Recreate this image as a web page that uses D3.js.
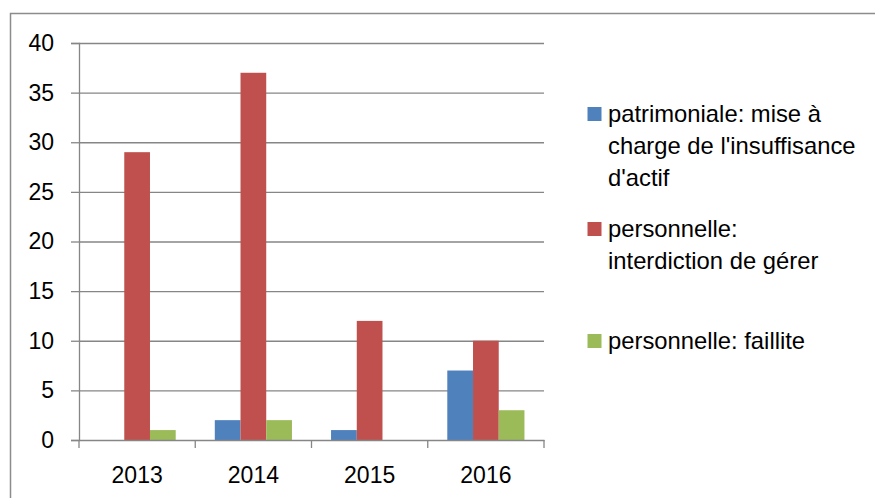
<!DOCTYPE html>
<html>
<head>
<meta charset="utf-8">
<script src="https://cdn.jsdelivr.net/npm/d3@7"></script>
<style>
  body { margin: 0; background: #fff; }
  svg { display: block; font-family: "Liberation Sans", Arial, sans-serif; }
</style>
</head>
<body>
<script>
// values
const years = ["2013", "2014", "2015", "2016"];
const patrimoniale = [0, 2, 1, 7];
const interdiction = [29, 37, 12, 10];
const faillite = [1, 2, 0, 3];
const seriesKeys = ["patrimoniale", "interdiction", "faillite"];
const legendLines = [
    ["patrimoniale: mise à", "charge de l'insuffisance", "d'actif"],
    ["personnelle:", "interdiction de gérer"],
    ["personnelle: faillite"]
];
const yTicks = [0, 5, 10, 15, 20, 25, 30, 35, 40];

const colors = { patrimoniale: "#4F81BD", interdiction: "#C0504D", faillite: "#9BBB59" };

const width = 875, height = 498;
const plotLeft = 79, plotRight = 544, plotTop = 43, plotBottom = 440;
const axisColor = "#868686";

const svg = d3.select("body").append("svg")
    .attr("width", width)
    .attr("height", height);

// outer frame (cut off at right and bottom)
svg.append("rect")
    .attr("x", 10.5).attr("y", 13.5)
    .attr("width", 900).attr("height", 520)
    .attr("fill", "none")
    .attr("stroke", "#8c8c8c")
    .attr("stroke-width", 1.5);

const x = d3.scaleBand().domain(years).range([plotLeft, plotRight]);
const x1 = d3.scaleBand().domain(seriesKeys).range([0, x.bandwidth()]).paddingOuter(0.76);
const y = d3.scaleLinear().domain([0, 40]).range([plotBottom, plotTop]);

// gridlines
svg.append("g")
    .attr("transform", `translate(${plotLeft},0)`)
    .call(d3.axisLeft(y).tickValues(yTicks.slice(1)).tickSize(-(plotRight - plotLeft)).tickFormat(""))
    .call(g => g.select(".domain").remove())
    .call(g => g.selectAll("line").attr("stroke", axisColor).attr("stroke-width", 1.3));

// bars
const rows = years.map((yr, i) => ({
    year: yr,
    patrimoniale: patrimoniale[i],
    interdiction: interdiction[i],
    faillite: faillite[i]
}));

svg.append("g")
    .selectAll("g")
    .data(rows)
    .join("g")
    .attr("transform", d => `translate(${x(d.year)},0)`)
    .selectAll("rect")
    .data(d => seriesKeys.map(k => ({ key: k, value: d[k] })))
    .join("rect")
    .attr("x", d => x1(d.key))
    .attr("width", x1.bandwidth())
    .attr("y", d => y(d.value))
    .attr("height", d => y(0) - y(d.value))
    .attr("fill", d => colors[d.key]);

// y axis
svg.append("g")
    .attr("transform", `translate(${plotLeft},0)`)
    .call(d3.axisLeft(y).tickValues(yTicks).tickSize(8).tickPadding(17))
    .call(g => g.select(".domain").attr("stroke", axisColor).attr("stroke-width", 1.3))
    .call(g => g.selectAll("line").attr("stroke", axisColor).attr("stroke-width", 1.3))
    .call(g => g.selectAll("text").attr("font-size", 23).attr("font-family", "Liberation Sans, Arial, sans-serif").attr("fill", "#000"));

// x axis
const xAxis = svg.append("g")
    .attr("transform", `translate(0,${plotBottom})`)
    .call(d3.axisBottom(x).tickSize(0).tickPadding(27))
    .call(g => g.select(".domain").attr("stroke", axisColor).attr("stroke-width", 1.3))
    .call(g => g.selectAll("text").attr("font-size", 23).attr("font-family", "Liberation Sans, Arial, sans-serif").attr("fill", "#000"));

xAxis.selectAll(".sep")
    .data(years.map(d => x(d)).concat([plotRight]))
    .join("line")
    .attr("class", "sep")
    .attr("x1", d => d).attr("x2", d => d)
    .attr("y1", 0).attr("y2", 8)
    .attr("stroke", axisColor)
    .attr("stroke-width", 1.3);

// legend
const legendTops = [107, 222, 334];
const legend = svg.append("g");
seriesKeys.forEach((k, i) => {
    legend.append("rect")
        .attr("x", 587.5).attr("y", legendTops[i])
        .attr("width", 14).attr("height", 14)
        .attr("fill", colors[k]);
    const t = legend.append("text")
        .attr("x", 608)
        .attr("y", legendTops[i] + 15)
        .attr("font-size", 23.8)
        .attr("fill", "#000");
    t.selectAll("tspan")
        .data(legendLines[i])
        .join("tspan")
        .attr("x", 608)
        .attr("dy", (d, j) => j === 0 ? 0 : 32)
        .text(d => d);
});
</script>
</body>
</html>
